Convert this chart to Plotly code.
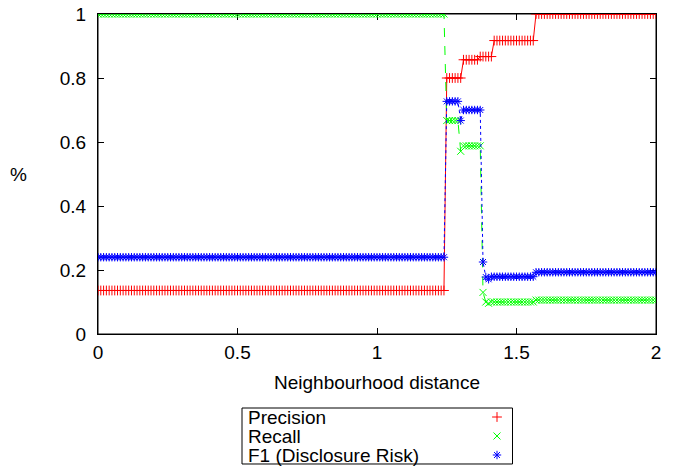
import numpy as np
import plotly.graph_objects as go

# Neighbourhood distance grid (sampled every 0.01 from 0 to 2)
distance = np.round(np.arange(0, 201) * 0.01, 2)

# Step levels: (segment start distance, value)
precision_starts = [0.00, 1.25, 1.31, 1.37, 1.42, 1.57]
precision_levels = [0.136, 0.800, 0.857, 0.867, 0.917, 1.000]

recall_starts = [0.00, 1.25, 1.30, 1.31, 1.38, 1.39, 1.40, 1.41, 1.57]
recall_levels = [1.000, 0.667, 0.571, 0.588, 0.130, 0.100, 0.096, 0.100, 0.106]

f1_starts = [0.00, 1.25, 1.30, 1.31, 1.38, 1.39, 1.40, 1.41, 1.57]
f1_levels = [0.240, 0.727, 0.667, 0.700, 0.225, 0.178, 0.171, 0.179, 0.193]

x_ticks = [0, 0.5, 1, 1.5, 2]
x_tick_labels = ["0", "0.5", "1", "1.5", "2"]
y_ticks = [0, 0.2, 0.4, 0.6, 0.8, 1]
y_tick_labels = ["0", "0.2", "0.4", "0.6", "0.8", "1"]

series_names = ["Precision", "Recall", "F1 (Disclosure Risk)"]
series_colors = ["#ff0000", "#00ff00", "#0000ff"]
series_symbols = ["cross-thin", "x-thin", "asterisk"]
series_dash = ["solid", "dash", "dot"]


def expand(starts, levels):
    idx = np.searchsorted(np.array(starts) - 1e-9, distance, side="right") - 1
    return np.array(levels)[idx]


series_values = [
    expand(precision_starts, precision_levels),
    expand(recall_starts, recall_levels),
    expand(f1_starts, f1_levels),
]

FONT = "Liberation Sans, Arial, sans-serif"
FS = 19
fig = go.Figure()

for name, vals, col, sym, dash in zip(series_names, series_values, series_colors,
                                      series_symbols, series_dash):
    fig.add_trace(go.Scatter(
        x=distance, y=vals, mode="lines+markers", name=name,
        line=dict(color=col, width=1, dash=dash),
        marker=dict(symbol=sym, size=7, color=col, line=dict(color=col, width=1)),
        showlegend=False, xaxis="x", yaxis="y",
    ))

# Legend drawn in a pixel-coordinate helper axis below the plot (window pixels)
legend_rows_y = [417, 436, 455]
for name, col, sym, ry in zip(series_names, series_colors, series_symbols, legend_rows_y):
    fig.add_trace(go.Scatter(
        x=[497], y=[ry], mode="markers", showlegend=False, hoverinfo="skip",
        marker=dict(symbol=sym, size=7, color=col, line=dict(color=col, width=1)),
        xaxis="x2", yaxis="y2",
    ))
    fig.add_annotation(x=246, y=ry, xref="x2", yref="y2", text=name, showarrow=False,
                       xanchor="left", yanchor="middle",
                       font=dict(family=FONT, size=FS, color="black"))

fig.add_shape(type="rect", x0=242, x1=512.5, y0=408, y1=464, xref="x2", yref="y2",
              line=dict(color="black", width=1), fillcolor="rgba(0,0,0,0)")

# plot frame
fig.add_shape(type="rect", x0=0, x1=1, y0=0, y1=1, xref="x domain", yref="y domain",
              line=dict(color="black", width=1), fillcolor="rgba(0,0,0,0)",
              layer="below")

# "%" y-label upright
fig.add_annotation(x=-0.143, y=0.5, xref="paper", yref="y domain", text="%",
                   showarrow=False, xanchor="center", yanchor="middle",
                   font=dict(family=FONT, size=FS, color="black"))

axis_common = dict(
    showgrid=False, zeroline=False, showline=True, linecolor="black", linewidth=1,
    mirror="ticks", ticks="inside", ticklen=6, tickcolor="black", tickwidth=1,
    tickfont=dict(family=FONT, size=FS, color="black"), layer="below traces",
    automargin=False, ticklabeloverflow="allow",
)

fig.update_layout(
    width=683, height=466,
    margin=dict(l=98, r=27, t=14, b=0),
    paper_bgcolor="white", plot_bgcolor="white",
    font=dict(family=FONT, size=FS, color="black"),
    xaxis=dict(range=[0, 2], tickvals=x_ticks, ticktext=x_tick_labels,
               domain=[0, 1], anchor="y", ticklabelstandoff=1,
               title=dict(text="Neighbourhood distance", standoff=13,
                          font=dict(family=FONT, size=FS)),
               **axis_common),
    xaxis3=dict(range=[0, 2], tickvals=x_ticks, overlaying="x", side="top",
                anchor="y", showticklabels=False, showline=False, showgrid=False,
                zeroline=False, ticks="inside", ticklen=6, tickcolor="black",
                tickwidth=1, layer="below traces", automargin=False),
    yaxis=dict(range=[0, 1], tickvals=y_ticks, ticktext=y_tick_labels,
               domain=[0.292, 1], anchor="x", ticklabelstandoff=7, **axis_common),
    xaxis2=dict(range=[98, 656], domain=[0, 1], anchor="y2", visible=False,
                fixedrange=True),
    yaxis2=dict(range=[466, 334], domain=[0, 0.292], anchor="x2", visible=False,
                fixedrange=True),
    showlegend=False,
)

# remove the default 8px page margin so the figure fills the window exactly
fig.write_html("out.html", config={"displayModeBar": False},
               post_script="document.body.style.margin='0';document.body.style.overflow='hidden';")
